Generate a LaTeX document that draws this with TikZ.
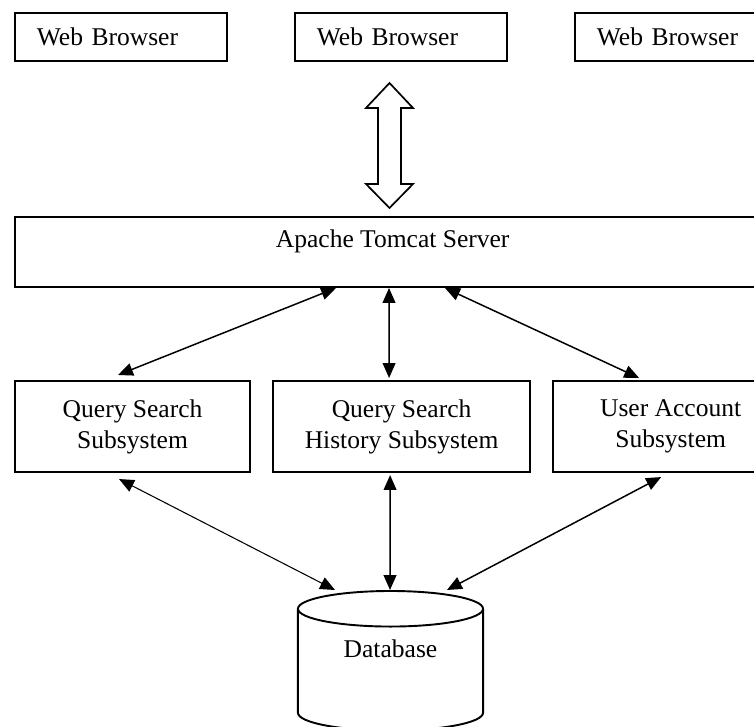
\documentclass[tikz,border=0pt]{standalone}
\usepackage{fontspec}
\setmainfont{Liberation Serif}
\usetikzlibrary{positioning,arrows.meta,shapes.geometric}

\tikzset{
  box/.style={draw, line width=0.9pt, inner sep=0pt, outer sep=0pt},
  browser/.style={box, minimum height=22.6pt, text width=79pt, align=left, inner xsep=10.3pt},
  server/.style={box, minimum width=355pt, minimum height=32.9pt, text height=8pt, text depth=11.8pt},
  subsys/.style={box, minimum height=42.8pt, align=center},
  store/.style={draw, line width=0.9pt, cylinder, shape border rotate=90, aspect=0.38,
    minimum width=87pt, minimum height=65.6pt, inner sep=0pt, outer sep=0pt},
  link/.style={<->, >={Triangle[length=7pt,width=6pt]}, line width=0.7pt},
  bigarrow/.style={draw, line width=0.8pt, line join=miter}
}

\begin{document}
\begin{tikzpicture}[x=0.47pt,y=-0.47pt,font=\fontsize{12pt}{14.5pt}\selectfont]
  \useasboundingbox (0,0) rectangle (754,727);
  \node[browser, anchor=north west] (wb1) at (15,13) {Web Browser};
  \node[browser] (wb2) [right=32pt of wb1] {Web Browser};
  \node[browser] (wb3) [right=32pt of wb2] {Web Browser};
  \node[server, anchor=north west] (tomcat) at (15,217) {Apache Tomcat Server};
  \node[subsys, minimum width=110.5pt, anchor=north west] (qs) at (15,381) {Query Search\\Subsystem};
  \node[subsys, minimum width=120.8pt] (qsh) [right=10.8pt of qs] {Query Search\\History Subsystem};
  \node[subsys, minimum width=110.5pt] (ua) [right=10.8pt of qsh] {User Account\\Subsystem};
  \node[store, anchor=north, text height=8pt, text depth=20pt] (db) at (390.5,591) {Database};
  % browser <-> server
  \coordinate (http) at (389.5,145.5);
  \path[bigarrow] (http) ++(0,-62.5) -- ++(23.5,25) -- ++(-12,0) -- ++(0,76) -- ++(12,0)
    -- ++(-23.5,24) -- ++(-23.5,-24) -- ++(12,0) -- ++(0,-76) -- ++(-12,0) -- cycle;
  % server <-> subsystems
  \draw[link] ([shift={(321,1)}]tomcat.south west) -- ([shift={(-14.5,-6)}]qs.north);
  \draw[link] ([shift={(374,1)}]tomcat.south west) -- ([shift={(-12.5,-3)}]qsh.north);
  \draw[link] ([shift={(430,1)}]tomcat.south west) -- ([shift={(-31.5,-3)}]ua.north);
  % subsystems <-> database
  \draw[link, line width=0.5pt] ([shift={(-13.5,7)}]qs.south) -- ([shift={(-55.5,-1)}]db.north);
  \draw[link] ([shift={(-11.5,3)}]qsh.south) -- ([shift={(-0.5,-1)}]db.north);
  \draw[link] ([shift={(-9.5,5)}]ua.south) -- ([shift={(56.5,-1)}]db.north);
\end{tikzpicture}
\end{document}
